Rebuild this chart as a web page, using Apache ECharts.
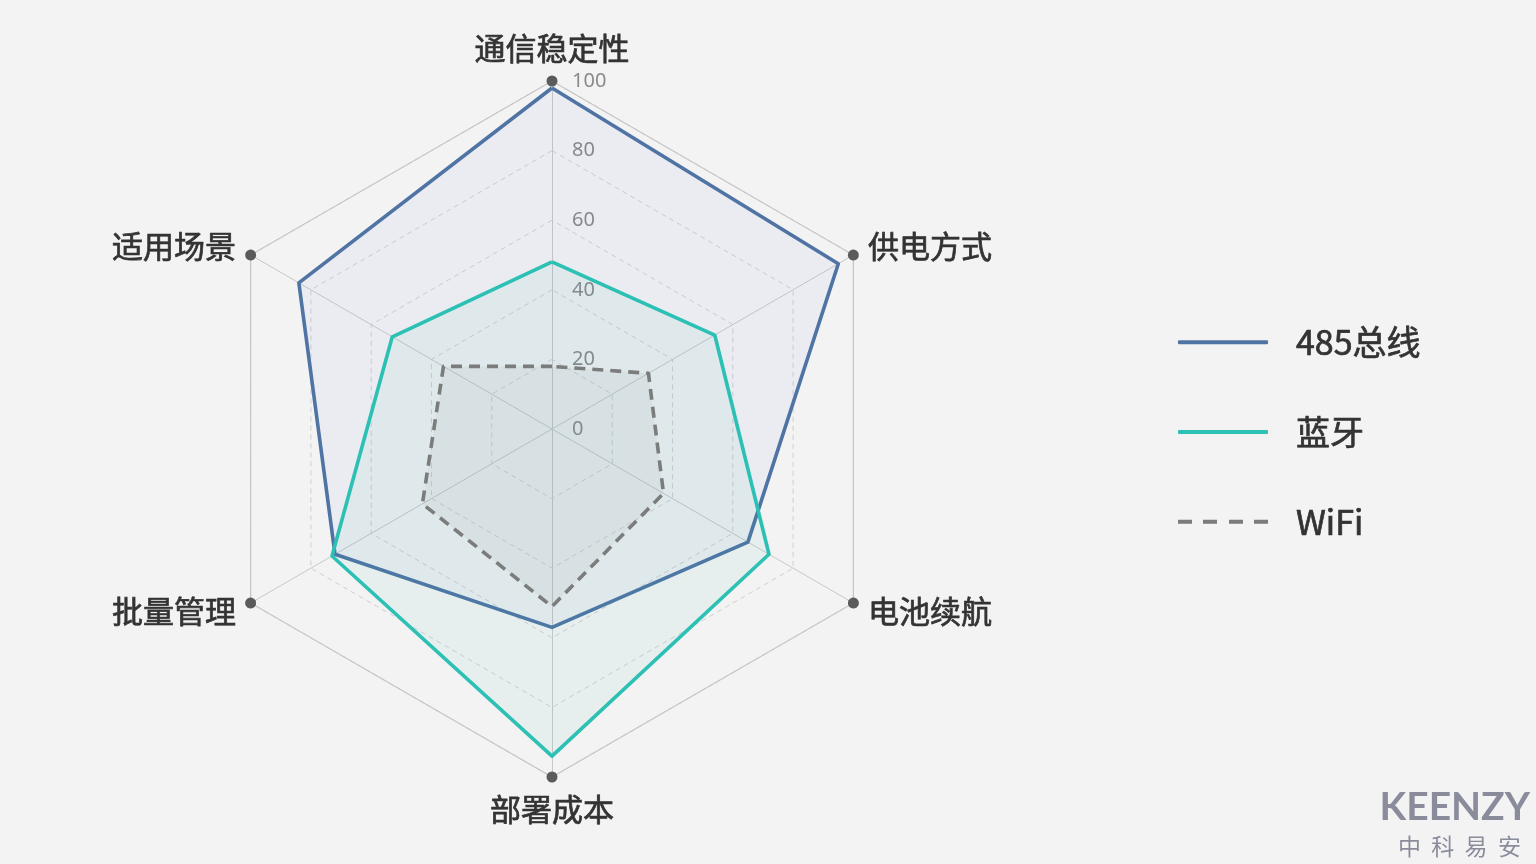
<!DOCTYPE html>
<html>
<head>
<meta charset="utf-8">
<title>通信方式对比</title>
<script src="https://cdn.jsdelivr.net/npm/echarts@6/dist/echarts.min.js"></script>
<style>
    html, body { margin: 0; padding: 0; background: #f3f3f3; }
    #container { width: 1536px; height: 864px; }
</style>
</head>
<body>
<div id="container"></div>
<script>
    // indicators, counter-clockwise from the top (ECharts radar order)
    var indicatorNames = ['通信稳定性', '适用场景', '批量管理', '部署成本', '电池续航', '供电方式'];
    var seriesNames = ['485总线', '蓝牙', 'WiFi'];
    var bus485 = [98, 84, 72, 57, 65, 95];
    var bluetooth = [48, 53, 73, 94, 72, 54];
    var wifi = [18, 36, 43, 51, 37, 32];
    var axisMax = 100;
    var splitCount = 5;

    var center = [552, 429];
    var radius = 348;

    function buildIndicators(withLabel) {
        return indicatorNames.map(function (n, i) {
            var item = { name: n, max: axisMax, min: 0 };
            if (withLabel && i === 0) {
                item.axisLabel = { show: true };
            }
            return item;
        });
    }

    function loadChart() {
        var dom = document.getElementById('container');
        var myChart = echarts.init(dom, null, { renderer: 'canvas' });
        var option = {
            backgroundColor: '#f3f3f3',
            color: ['#4f74a3', '#2cc1b4', '#7b7b7b'],
            legend: {
                orient: 'vertical',
                left: 1178,
                top: 325,
                padding: 0,
                itemWidth: 90,
                itemHeight: 4,
                itemGap: 55,
                textStyle: {
                    fontSize: 34,
                    lineHeight: 32,
                    color: '#333',
                    textBorderColor: '#333',
                    textBorderWidth: 0.7,
                    fontFamily: 'Noto Sans CJK SC',
                    padding: [0, 0, 0, 23]
                },
                data: [
                    { name: seriesNames[0], icon: 'roundRect' },
                    { name: seriesNames[1], icon: 'roundRect' },
                    { name: seriesNames[2], icon: 'path://M0,0h14v4h-14z M25,0h14v4h-14z M51,0h14v4h-14z M76,0h14v4h-14z' }
                ]
            },
            radar: [
                {
                    center: center,
                    radius: radius,
                    splitNumber: splitCount,
                    shape: 'polygon',
                    indicator: buildIndicators(true),
                    nameGap: 17,
                    axisName: {
                        color: '#333',
                        fontSize: 31,
                        textBorderColor: '#333',
                        textBorderWidth: 0.7,
                        fontFamily: 'Noto Sans CJK SC'
                    },
                    axisLine: { lineStyle: { color: '#c8c8c8', width: 1 } },
                    splitLine: { lineStyle: { color: '#cfcfcf', width: 1, type: [5, 4] } },
                    splitArea: { show: false },
                    axisLabel: {
                        show: false,
                        color: '#8a8a8a',
                        fontSize: 20,
                        margin: -20,
                        align: 'left',
                        fontFamily: 'Noto Sans'
                    }
                },
                {
                    center: center,
                    radius: radius,
                    splitNumber: 1,
                    shape: 'polygon',
                    indicator: buildIndicators(false),
                    axisName: { show: false },
                    axisLine: {
                        show: true,
                        symbol: ['none', 'circle'],
                        symbolSize: [11, 11],
                        symbolOffset: [0, 0],
                        lineStyle: { color: '#5b5b5b', width: 0 }
                    },
                    splitLine: { lineStyle: { color: '#c6c6c6', width: 1.2 } },
                    splitArea: { show: false },
                    axisLabel: { show: false }
                }
            ],
            series: [
                {
                    type: 'radar',
                    radarIndex: 0,
                    symbol: 'none',
                    data: [
                        {
                            name: seriesNames[0],
                            value: bus485,
                            lineStyle: { width: 3.6, color: '#4f74a3' },
                            areaStyle: { color: 'rgba(100,120,225,0.075)' }
                        },
                        {
                            name: seriesNames[1],
                            value: bluetooth,
                            lineStyle: { width: 3.6, color: '#2cc1b4' },
                            areaStyle: { color: 'rgba(44,193,180,0.09)' }
                        },
                        {
                            name: seriesNames[2],
                            value: wifi,
                            lineStyle: { width: 3.6, color: '#7b7b7b', type: [11, 7] },
                            areaStyle: { color: 'rgba(140,150,150,0.12)' }
                        }
                    ]
                }
            ],
            graphic: [
                {
                    type: 'text',
                    right: 6,
                    top: 788,
                    style: {
                        text: 'KEENZY',
                        fill: '#8a8c9c',
                        font: 'bold 39px Lato'
                    }
                },
                {
                    type: 'text',
                    left: 1398,
                    top: 835,
                    style: {
                        text: '中  科  易  安',
                        fill: '#8a8c9c',
                        font: '23px "Noto Sans CJK SC"'
                    }
                }
            ]
        };
        if (option && typeof option === 'object') {
            myChart.setOption(option, true);
        }
    }

    loadChart();
</script>
</body>
</html>
